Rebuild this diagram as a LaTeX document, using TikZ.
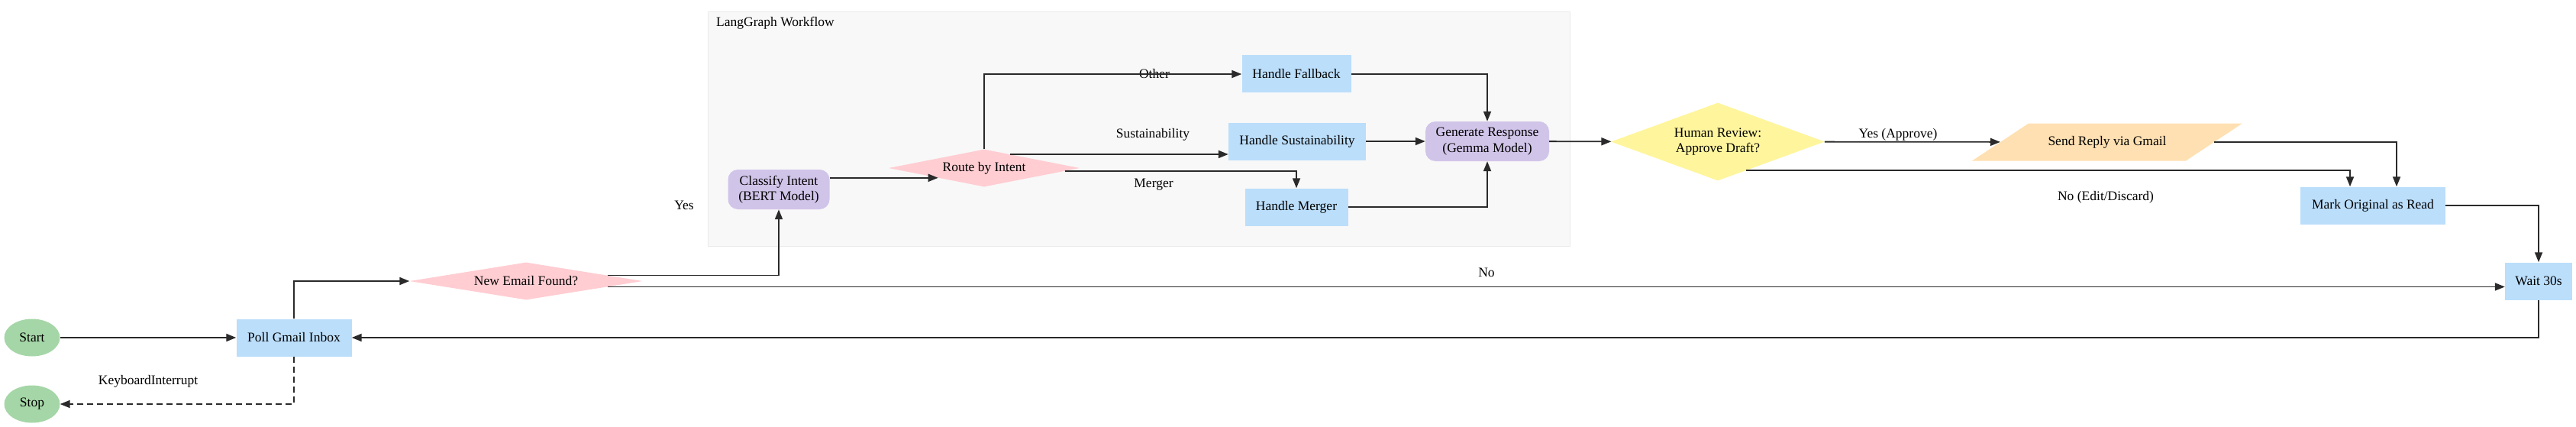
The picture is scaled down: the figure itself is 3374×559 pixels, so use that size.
\documentclass[tikz,border=0pt]{standalone}
\usepackage{fontspec}
\setmainfont{Liberation Serif}
\usetikzlibrary{shapes.geometric,arrows.meta}
\definecolor{termgreen}{HTML}{A5D6A7}
\definecolor{stepblue}{HTML}{BBDEFB}
\definecolor{askpink}{HTML}{FFCDD2}
\definecolor{modelpurple}{HTML}{D1C4E9}
\definecolor{reviewyellow}{HTML}{FFF59D}
\definecolor{replyorange}{HTML}{FFE0B2}
\definecolor{groupfill}{HTML}{F8F8F8}
\definecolor{groupline}{HTML}{EAEAEA}
\definecolor{linegray}{HTML}{2A2A2A}
\begin{document}
\begin{tikzpicture}[x=1pt,y=-1pt,font=\fontsize{17.5}{20.5}\selectfont,
    every node/.style={inner sep=0pt},
    term/.style={ellipse,fill=termgreen,minimum width=73pt,minimum height=49pt},
    box/.style={rectangle,fill=stepblue,minimum height=49pt},
    model/.style={rectangle,rounded corners=13pt,fill=modelpurple,minimum height=52pt,align=center},
    ask/.style={diamond,fill=askpink,aspect=6},
    flow/.style={draw=linegray,line width=1.8pt,-{Triangle[length=13pt,width=10pt]}}]
    % workflow group
    \node(lgraph)[rectangle,fill=groupfill,draw=groupline,minimum width=1129pt,minimum height=307pt] at (1491.5,168.5){};
    \node(lgtitle)[anchor=west] at (938,30){LangGraph Workflow};
    % nodes
    \node(start)[term] at (42,442){Start};
    \node(stop)[term] at (42,529){Stop};
    \node(poll)[box,minimum width=151pt] at (385,442){Poll Gmail Inbox};
    \node(newmail)[ask,minimum width=305pt,minimum height=49pt] at (689,368){New Email Found?};
    \node(classify)[model,minimum width=133pt] at (1020,248){Classify Intent\\(BERT Model)};
    \node(route)[ask,minimum width=250pt,minimum height=49pt] at (1289,220){Route by Intent};
    \node(fallback)[box,minimum width=143pt] at (1698,97){Handle Fallback};
    \node(sustain)[box,minimum width=180pt] at (1699,185){Handle Sustainability};
    \node(merger)[box,minimum width=135pt] at (1698,271){Handle Merger};
    \node(generate)[model,minimum width=162pt] at (1948,185){Generate Response\\(Gemma Model)};
    \node(review)[diamond,fill=reviewyellow,aspect=2.75,align=center,minimum width=280pt,minimum height=102pt] at (2250,185.5){Human Review:\\Approve Draft?};
    \node(sendreply)[trapezium,trapezium left angle=33.5,trapezium right angle=146.5,trapezium stretches body,fill=replyorange,text height=13pt,text depth=5pt,inner ysep=15.5pt,minimum width=354pt] at (2760,186){Send Reply via Gmail};
    \node(markread)[box,minimum width=190pt] at (3108,269){Mark Original as Read};
    \node(wait)[box,minimum width=88pt] at (3325,368){Wait 30s};
    % edge labels
    \node(yeslbl) at (896,269){Yes};
    \node(nolbl) at (1947,357){No};
    \node(otherlbl) at (1512,97){Other};
    \node(sustlbl) at (1510,176){Sustainability};
    \node(mergerlbl) at (1511,242){Merger};
    \node(approvelbl) at (2486,176){Yes (Approve)};
    \node(discardlbl) at (2758,258){No (Edit/Discard)};
    \node(kbdlbl) at (194,499){KeyboardInterrupt};
    % edges
    \draw[flow] (start) -- (poll);
    \draw[flow] (poll.north) |- (newmail);
    \draw[flow] (newmail.4.4) -| (classify);
    \draw[flow] (newmail.-4.4) -- (newmail.-4.4 -| wait.west);
    \draw[flow] (classify.east |- route.192.5) -- (route.192.5);
    \draw[flow] (route.north) |- (fallback);
    \draw[flow] (route.28.6) -- (route.28.6 -| sustain.west);
    \draw[flow] (route.-2.2) -| (merger);
    \draw[flow] (fallback) -| (generate);
    \draw[flow] (sustain) -- (generate);
    \draw[flow] (merger) -| (generate);
    \draw[flow] (generate) -- (review);
    \draw[flow] (review) -- (sendreply);
    \draw[flow] (review.-46.8) -| ([xshift=-30pt]markread.north);
    \draw[flow] (sendreply.east) -| ([xshift=31pt]markread.north);
    \draw[flow] (markread) -| (wait);
    \draw[flow] (wait) |- (poll);
    \draw[flow,dash pattern=on 8pt off 5pt] (poll) |- (stop);
    \useasboundingbox (0,0) rectangle (3374,559);
\end{tikzpicture}
\end{document}
